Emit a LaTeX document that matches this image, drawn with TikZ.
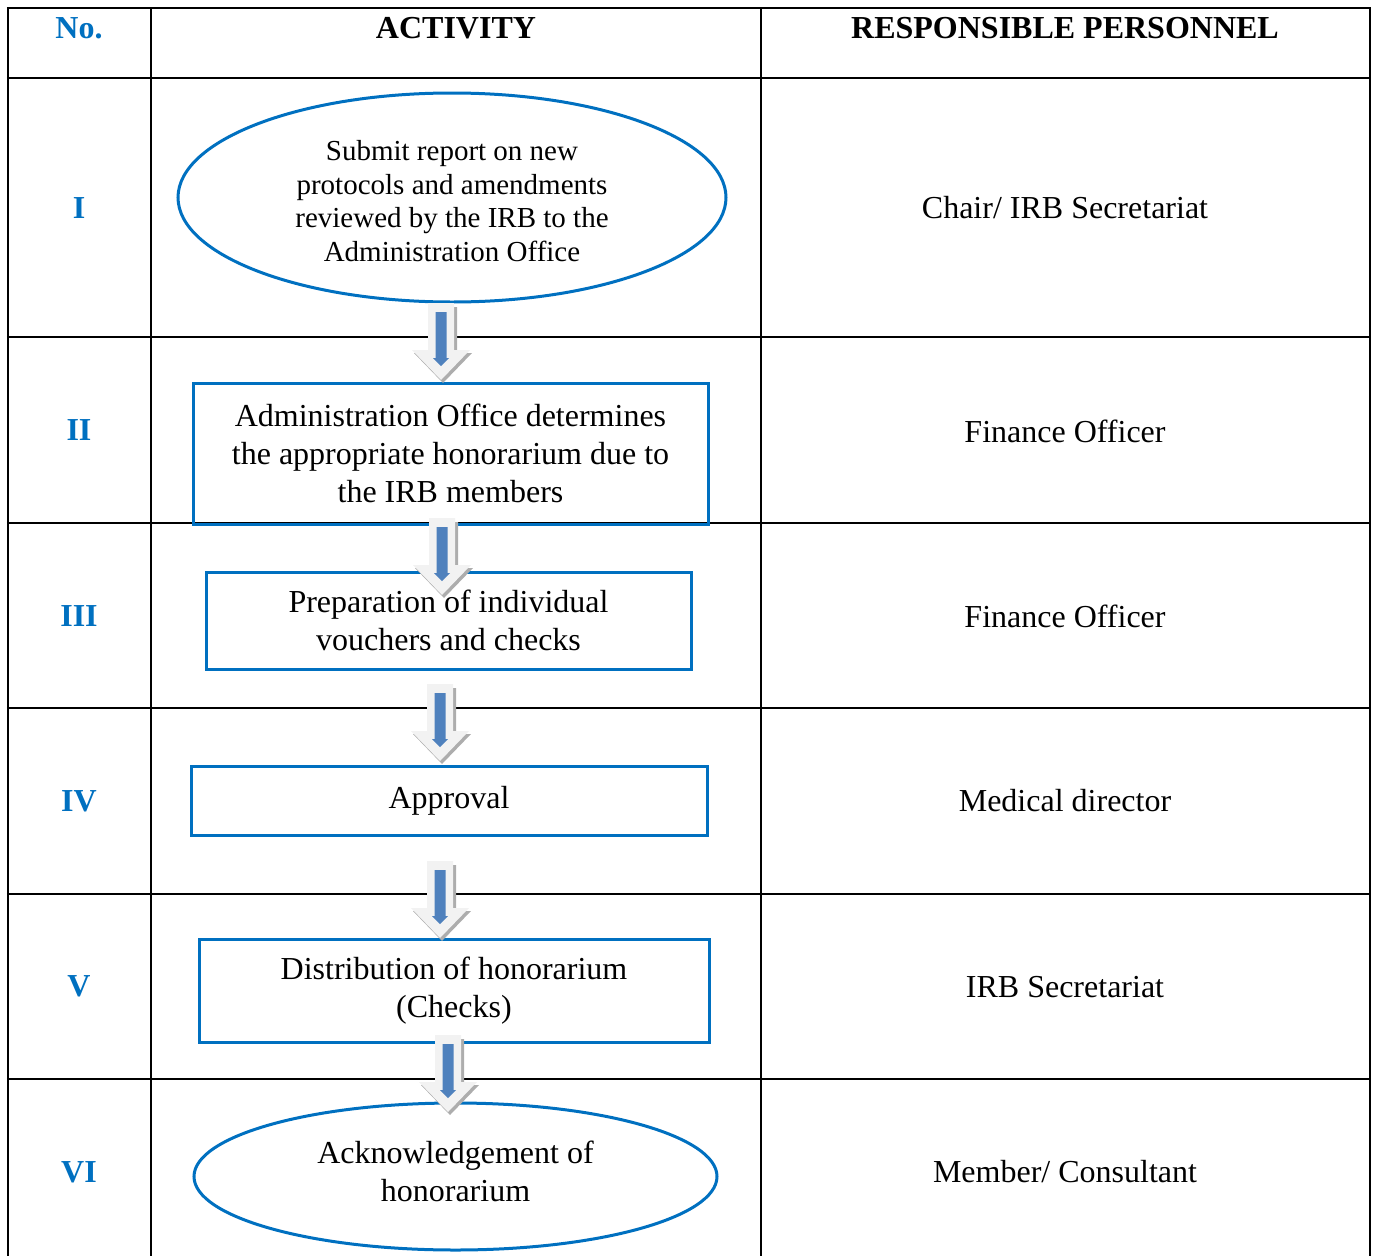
\documentclass[tikz,border=0pt]{standalone}
\usepackage{fontspec}
\setmainfont{Liberation Serif}
\usetikzlibrary{shapes.geometric}
\definecolor{boxblue}{HTML}{0070C0}
\definecolor{arrblue}{HTML}{4F81BD}
\definecolor{arrlight}{HTML}{F2F2F2}
\definecolor{arrshadow}{HTML}{ADADAD}
\begin{document}
\begin{tikzpicture}[x=1pt,y=-1pt,
  gridline/.style={line width=2.3pt, black},
  hdr/.style={font=\fontsize{32}{37}\selectfont\bfseries, inner sep=0pt},
  num/.style={font=\fontsize{32}{37}\selectfont\bfseries, text=boxblue, inner sep=0pt},
  who/.style={font=\fontsize{32}{37}\selectfont, inner sep=0pt},
  actbox/.style={draw=boxblue, line width=3pt, rectangle, inner sep=0pt, align=center, font=\fontsize{32}{38}\selectfont},
  actell/.style={draw=boxblue, line width=3pt, ellipse, inner sep=0pt},
  acttext/.style={align=center, inner sep=0pt},
  blockarr/.pic={
    \fill[arrshadow] (-10,4) -- (16,4) -- (16,50) -- (31,50) -- (2,80) -- (-27,50) -- (-10,50) -- cycle;
    \fill[arrlight] (-13,0) -- (13,0) -- (13,47) -- (29,47) -- (0,77) -- (-29,47) -- (-13,47) -- cycle;
    \fill[arrblue] (-5.5,9) -- (5.5,9) -- (5.5,55) -- (8,55) -- (0,63) -- (-8,55) -- (-5.5,55) -- cycle;
  }
]
\useasboundingbox (0,0) rectangle (1374,1256);
% table grid
\foreach \gx in {8,151,761,1370} \draw[gridline] (\gx,8) -- (\gx,1256);
\foreach \gy in {8,78,337,523,708,894,1079} \draw[gridline] (6.85,\gy) -- (1371.15,\gy);
% headers
\node[hdr, text=boxblue] (hno) at (79,28) {No.};
\node[hdr] (hact) at (456,28) {ACTIVITY};
\node[hdr] (hresp) at (1065,28) {RESPONSIBLE PERSONNEL};
% numerals
\node[num] (n1) at (79,208) {I};
\node[num] (n2) at (79,430) {II};
\node[num] (n3) at (79,616) {III};
\node[num] (n4) at (79,801) {IV};
\node[num] (n5) at (79,986) {V};
\node[num] (n6) at (79,1172) {VI};
% responsible
\node[who] (r1) at (1065,208) {Chair/ IRB Secretariat};
\node[who] (r2) at (1065,431) {Finance Officer};
\node[who] (r3) at (1065,616) {Finance Officer};
\node[who] (r4) at (1065,801) {Medical director};
\node[who] (r5) at (1065,987) {IRB Secretariat};
\node[who] (r6) at (1065,1172) {Member/ Consultant};
% activities
\node[actell, minimum width=548pt, minimum height=209pt] (a1) at (452,197.5) {};
\node[acttext, font=\fontsize{29}{33.7}\selectfont] (a1t) at (452,201)
  {Submit report on new\\protocols and amendments\\reviewed by the IRB to the\\Administration Office};
\node[actbox, minimum width=515pt, minimum height=141pt] (a2) at (450.5,453.5)
  {Administration Office determines\\the appropriate honorarium due to\\the IRB members};
\node[actbox, minimum width=485pt, minimum height=97pt] (a3) at (448.5,620.5)
  {Preparation of individual\\vouchers and checks};
\node[actbox, minimum width=516pt, minimum height=69pt] (a4) at (449,800.5) {Approval};
\node[actbox, minimum width=510pt, minimum height=103pt] (a5) at (454,990.5)
  {Distribution of honorarium\\(Checks)};
\node[actell, minimum width=523pt, minimum height=147pt] (a6) at (455.5,1176.5) {};
\node[acttext, font=\fontsize{32}{38}\selectfont] (a6t) at (455.5,1171.5)
  {Acknowledgement of\\honorarium};
% block arrows
\pic (ar1) at (441,303) {blockarr};
\pic (ar2) at (442,518) {blockarr};
\pic (ar3) at (440,684) {blockarr};
\pic (ar4) at (440,861) {blockarr};
\pic (ar5) at (448,1035) {blockarr};
\end{tikzpicture}
\end{document}
